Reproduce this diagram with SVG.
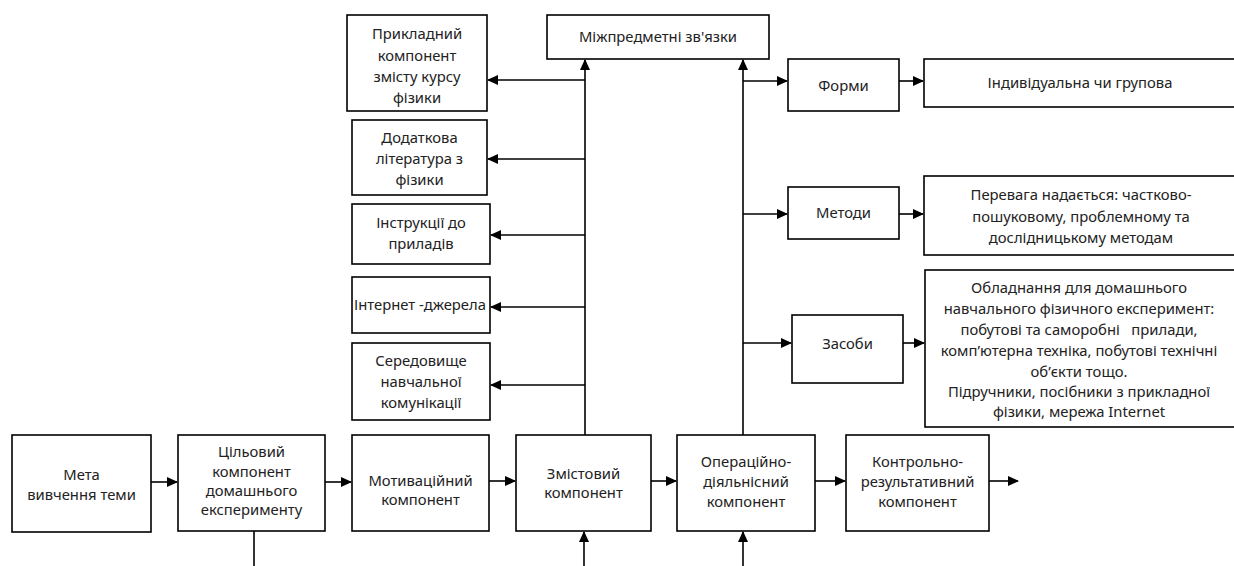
<svg xmlns="http://www.w3.org/2000/svg" width="1234" height="566" viewBox="0 0 1234 566">
<style>
rect{fill:#fff;stroke:#000;stroke-width:1.6}
text{font-family:"Noto Sans","Open Sans",sans-serif;font-size:14.8px;fill:#222;text-anchor:middle}
.c line,.c path{stroke:#000;stroke-width:1.6;fill:none}
</style>
<defs>
<marker id="ah" markerUnits="userSpaceOnUse" markerWidth="11" markerHeight="10" refX="10" refY="5" orient="auto">
<path d="M0,0 L11,5 L0,10 z" fill="#000"/>
</marker>
</defs>
<rect width="1234" height="566" style="fill:#fff;stroke:none"/>
<g class="c">
<line x1="585" y1="435" x2="585" y2="60" marker-end="url(#ah)"/>
<line x1="743" y1="435" x2="743" y2="60" marker-end="url(#ah)"/>
<line x1="585" y1="80" x2="488" y2="80" marker-end="url(#ah)"/>
<line x1="585" y1="159" x2="488" y2="159" marker-end="url(#ah)"/>
<line x1="585" y1="235" x2="491" y2="235" marker-end="url(#ah)"/>
<line x1="585" y1="307" x2="491" y2="307" marker-end="url(#ah)"/>
<line x1="585" y1="385" x2="491" y2="385" marker-end="url(#ah)"/>
<line x1="743" y1="81" x2="787" y2="81" marker-end="url(#ah)"/>
<line x1="743" y1="214" x2="787" y2="214" marker-end="url(#ah)"/>
<line x1="743" y1="343" x2="791" y2="343" marker-end="url(#ah)"/>
<line x1="899" y1="81" x2="923" y2="81" marker-end="url(#ah)"/>
<line x1="899" y1="214" x2="923" y2="214" marker-end="url(#ah)"/>
<line x1="903" y1="343" x2="924" y2="343" marker-end="url(#ah)"/>
<line x1="151" y1="482" x2="177" y2="482" marker-end="url(#ah)"/>
<line x1="325" y1="482" x2="351" y2="482" marker-end="url(#ah)"/>
<line x1="489" y1="481" x2="515" y2="481" marker-end="url(#ah)"/>
<line x1="651" y1="481" x2="676" y2="481" marker-end="url(#ah)"/>
<line x1="815" y1="481" x2="845" y2="481" marker-end="url(#ah)"/>
<line x1="989" y1="481" x2="1018" y2="481" marker-end="url(#ah)"/>
<line x1="254" y1="531" x2="254" y2="566"/>
<line x1="584" y1="566" x2="584" y2="532" marker-end="url(#ah)"/>
<line x1="743" y1="566" x2="743" y2="532" marker-end="url(#ah)"/>
</g>
<g id="prikl"><rect x="347" y="15" width="140" height="96"/>
<text x="417" y="39">Прикладний</text><text x="417" y="61">компонент</text><text x="417" y="82">змісту курсу</text><text x="417" y="103">фізики</text></g>
<g id="mizh"><rect x="547" y="15" width="222" height="44"/><text x="658" y="42">Міжпредметні зв'язки</text></g>
<g id="dodat"><rect x="352" y="120" width="135" height="75"/>
<text x="419.5" y="143">Додаткова</text><text x="419.5" y="164">література з</text><text x="419.5" y="185">фізики</text></g>
<g id="instr"><rect x="352" y="204" width="138" height="60"/>
<text x="421" y="228">Інструкції до</text><text x="421" y="249">приладів</text></g>
<g id="internet"><rect x="352" y="277" width="138" height="56"/>
<text x="420" y="310">Інтернет -джерела</text></g>
<g id="seredov"><rect x="352" y="343" width="138" height="77"/>
<text x="421" y="366">Середовище</text><text x="421" y="387">навчальної</text><text x="421" y="408">комунікації</text></g>
<g id="meta"><rect x="12" y="435" width="139" height="97"/>
<text x="81.5" y="480">Мета</text><text x="81.5" y="500">вивчення теми</text></g>
<g id="cil"><rect x="178" y="435" width="147" height="96"/>
<text x="251.5" y="457">Цільовий</text><text x="251.5" y="477">компонент</text><text x="251.5" y="496">домашнього</text><text x="251.5" y="515">експерименту</text></g>
<g id="motiv"><rect x="352" y="435" width="137" height="96"/>
<text x="420.5" y="486">Мотиваційний</text><text x="420.5" y="505">компонент</text></g>
<g id="zmist"><rect x="516" y="435" width="135" height="96"/>
<text x="583.5" y="479">Змістовий</text><text x="583.5" y="498">компонент</text></g>
<g id="oper"><rect x="677" y="435" width="138" height="96"/>
<text x="746" y="467">Операційно-</text><text x="746" y="487">діяльнісний</text><text x="746" y="507">компонент</text></g>
<g id="kontr"><rect x="846" y="435" width="143" height="96"/>
<text x="917.5" y="467">Контрольно-</text><text x="917.5" y="487">результативний</text><text x="917.5" y="507">компонент</text></g>
<g id="formy"><rect x="788" y="59" width="111" height="52"/><text x="843.5" y="91">Форми</text></g>
<g id="indyv"><rect x="924" y="59" width="320" height="48"/><text x="1080" y="88">Індивідуальна чи групова</text></g>
<g id="metody"><rect x="788" y="187" width="111" height="52"/><text x="843.5" y="218">Методи</text></g>
<g id="perevaga"><rect x="924" y="176" width="320" height="79"/>
<text x="1081" y="200">Перевага надається: частково-</text><text x="1081" y="222">пошуковому, проблемному та</text><text x="1081" y="243">дослідницькому методам</text></g>
<g id="zasoby"><rect x="792" y="315" width="111" height="68"/><text x="847.5" y="349">Засоби</text></g>
<g id="obladn"><rect x="925" y="270" width="320" height="157"/>
<text x="1079" y="293">Обладнання для домашнього</text>
<text x="1079" y="314">навчального фізичного експеримент:</text>
<text x="1079" y="335" xml:space="preserve">побутові та саморобні   прилади,</text>
<text x="1079" y="356">комп’ютерна техніка, побутові технічні</text>
<text x="1079" y="377">об’єкти тощо.</text>
<text x="1079" y="397">Підручники, посібники з прикладної</text>
<text x="1079" y="417">фізики, мережа Internet</text></g>
</svg>
